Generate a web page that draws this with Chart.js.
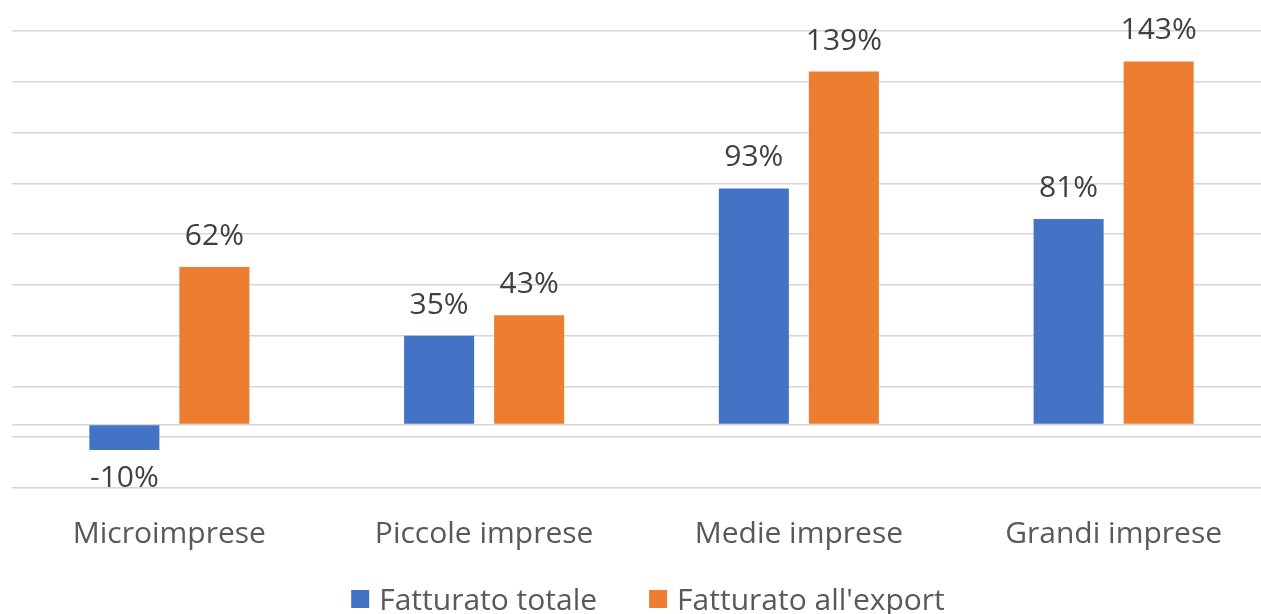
<!DOCTYPE html>
<html>
<head>
<meta charset="utf-8">
<script src="https://cdn.jsdelivr.net/npm/chart.js@4"></script>
<style>
  html, body { margin: 0; padding: 0; background: #ffffff; overflow: hidden; }
  #wrap { position: absolute; left: 0; top: 0; }
</style>
</head>
<body>
<div id="wrap"><canvas id="chart" width="1296" height="614"></canvas></div>
<script>
// Categories and series (percent change)
const categories = ['Microimprese', 'Piccole imprese', 'Medie imprese', 'Grandi imprese'];
const seriesNames = ['Fatturato totale', "Fatturato all'export"];
const fatturatoTotale = [-10, 35, 93, 81];
const fatturatoExport = [62, 43, 139, 143];
// Horizontal gridline positions on the value axis
const gridValues = [-25, -5, 0, 15, 35, 55, 75, 95, 115, 135, 155];

const FONT = "'Open Sans', 'Noto Sans', sans-serif";
const TEXT_SIZE = 30;

// Draws the percentage above (or below, for negatives) each bar
const valueLabels = {
  id: 'valueLabels',
  afterDatasetsDraw(chart) {
    const ctx = chart.ctx;
    ctx.save();
    ctx.font = TEXT_SIZE + 'px ' + FONT;
    ctx.fillStyle = '#404040';
    ctx.textAlign = 'center';
    ctx.textBaseline = 'alphabetic';
    chart.data.datasets.forEach((ds, di) => {
      const meta = chart.getDatasetMeta(di);
      meta.data.forEach((bar, i) => {
        const v = ds.data[i];
        const txt = v + '%';
        if (v >= 0) {
          ctx.fillText(txt, bar.x, bar.y - 22);
        } else {
          ctx.fillText(txt, bar.x, bar.y + 37);
        }
      });
    });
    ctx.restore();
  }
};

// Bottom legend: square swatch + series name, items centred on the canvas
const bottomLegend = {
  id: 'bottomLegend',
  afterDraw(chart) {
    const ctx = chart.ctx;
    const box = 18, boxGap = 10, itemGap = 52;
    const baseline = 610;
    ctx.save();
    ctx.font = TEXT_SIZE + 'px ' + FONT;
    ctx.textBaseline = 'alphabetic';
    ctx.textAlign = 'left';
    const items = chart.data.datasets.map(ds => ({
      text: ds.label,
      color: ds.backgroundColor,
      w: ctx.measureText(ds.label).width
    }));
    const total = items.reduce((s, it) => s + box + boxGap + it.w, 0) + itemGap * (items.length - 1);
    let x = chart.width / 2 - total / 2;
    items.forEach(it => {
      ctx.fillStyle = it.color;
      ctx.fillRect(x, baseline - 20, box, box);
      x += box + boxGap;
      ctx.fillStyle = '#595959';
      ctx.fillText(it.text, x, baseline);
      x += it.w + itemGap;
    });
    ctx.restore();
  }
};

new Chart(document.getElementById('chart'), {
  type: 'bar',
  data: {
    labels: categories,
    datasets: [
      { label: seriesNames[0], data: fatturatoTotale, backgroundColor: '#4472C4', borderWidth: 0 },
      { label: seriesNames[1], data: fatturatoExport, backgroundColor: '#ED7D31', borderWidth: 0 }
    ]
  },
  options: {
    responsive: false,
    animation: false,
    devicePixelRatio: 1,
    layout: { padding: { left: 12, right: 25, top: 31, bottom: 60 } },
    datasets: {
      bar: { categoryPercentage: 0.572, barPercentage: 0.778 }
    },
    scales: {
      x: {
        grid: { display: false, drawTicks: false },
        border: { display: false },
        ticks: { color: '#595959', font: { family: FONT, size: TEXT_SIZE }, padding: 28 },
        afterFit(scale) { scale.height = 66; }
      },
      y: {
        min: -25,
        max: 155,
        afterBuildTicks(scale) { scale.ticks = gridValues.map(v => ({ value: v })); },
        grid: { color: '#d6d6d6', lineWidth: 1.5, drawTicks: false },
        border: { display: false },
        ticks: { display: false }
      }
    },
    plugins: {
      legend: { display: false },
      tooltip: { enabled: false }
    }
  },
  plugins: [valueLabels, bottomLegend]
});
</script>
</body>
</html>
